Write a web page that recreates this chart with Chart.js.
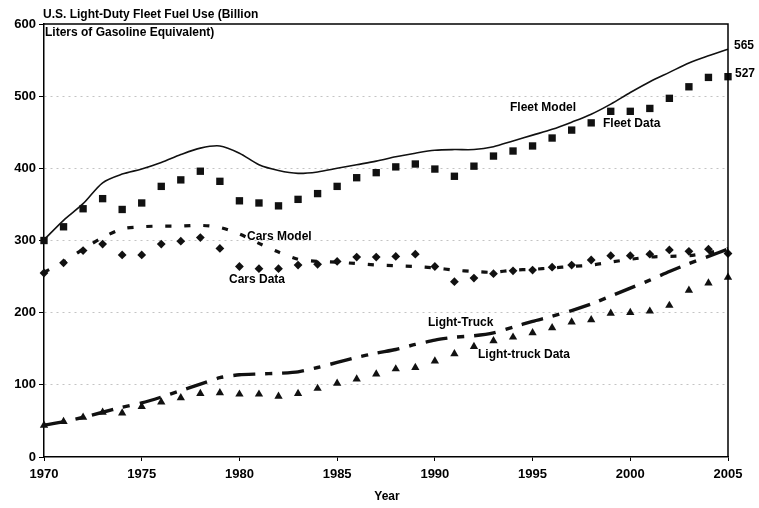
<!DOCTYPE html>
<html>
<head>
<meta charset="utf-8">
<script src="https://cdn.jsdelivr.net/npm/chart.js@4"></script>
<style>
  html, body { margin: 0; padding: 0; background: #fff; }
  #wrap { width: 759px; height: 508px; position: relative; }
</style>
</head>
<body>
<div id="wrap"><canvas id="chart"></canvas></div>
<script>
// Years 1970..2005
const years = [1970, 1971, 1972, 1973, 1974, 1975, 1976, 1977, 1978, 1979,
  1980, 1981, 1982, 1983, 1984, 1985, 1986, 1987, 1988, 1989,
  1990, 1991, 1992, 1993, 1994, 1995, 1996, 1997, 1998, 1999,
  2000, 2001, 2002, 2003, 2004, 2005];

// Billion liters of gasoline equivalent
const fleetModel = [301, 328, 351, 380, 392, 399, 408, 419, 428, 431,
  421, 405, 397, 393, 395, 400, 405, 410, 416, 421,
  425, 426, 426, 430, 438, 446, 454, 464, 475, 489,
  505, 520, 533, 546, 556, 565];
const fleetData = [300, 319, 344, 358, 343, 352, 375, 384, 396, 382,
  355, 352, 348, 357, 365, 375, 387, 394, 402, 406,
  399, 389, 403, 417, 424, 431, 442, 453, 463, 479,
  479, 483, 497, 513, 526, 527];
const carsModel = [256, 270, 288, 304, 316, 319, 320, 320, 321, 318,
  309, 296, 284, 274, 271, 270, 268, 266, 265, 264,
  262, 259, 257, 256, 259, 260, 262, 264, 266, 270,
  274, 277, 278, 279, 283, 289];
const carsData = [255, 269, 286, 295, 280, 280, 295, 299, 304, 289,
  264, 261, 261, 266, 267, 271, 277, 277, 278, 281,
  264, 243, 248, 254, 258, 259, 263, 266, 273, 279,
  279, 281, 287, 285, 288, 282];
const truckModel = [44, 49, 55, 62, 69, 75, 83, 92, 101, 110,
  114, 115, 116, 118, 124, 131, 138, 144, 149, 156,
  162, 166, 168, 172, 180, 188, 195, 203, 212, 223,
  234, 245, 257, 268, 278, 288];
const truckData = [44, 49, 55, 62, 61, 70, 76, 82, 88, 89,
  87, 87, 84, 88, 95, 102, 108, 115, 122, 124,
  133, 143, 153, 161, 166, 172, 179, 187, 190, 199,
  200, 202, 210, 231, 241, 249];

const yTicks = [0, 100, 200, 300, 400, 500, 600];
const xTicks = [1970, 1975, 1980, 1985, 1990, 1995, 2000, 2005];

const titleLines = ['U.S. Light-Duty Fleet Fuel Use (Billion', 'Liters of Gasoline Equivalent)'];
const notes = [
  { text: 'Fleet Model', x: 510, y: 108 },
  { text: 'Fleet Data', x: 603, y: 124 },
  { text: 'Cars Model', x: 247, y: 237 },
  { text: 'Cars Data', x: 229, y: 280 },
  { text: 'Light-Truck', x: 428, y: 323 },
  { text: 'Light-truck Data', x: 478, y: 355 },
  { text: '565', x: 734, y: 46 },
  { text: '527', x: 735, y: 74 }
];

const pts = arr => years.map((yr, i) => ({ x: yr, y: arr[i] }));
const FONT = '"Liberation Sans", Arial, sans-serif';

// Draws the frame, title lines and in-plot labels
const textPlugin = {
  id: 'texts',
  afterDraw(chart) {
    const { ctx, chartArea: a } = chart;
    ctx.save();
    ctx.strokeStyle = '#000';
    ctx.lineWidth = 1.5;
    ctx.beginPath();
    ctx.moveTo(a.left, a.top);
    ctx.lineTo(a.right, a.top);
    ctx.lineTo(a.right, a.bottom);
    ctx.stroke();

    ctx.fillStyle = '#000';
    ctx.font = 'bold 12px ' + FONT;
    ctx.textBaseline = 'middle';
    ctx.textAlign = 'left';
    ctx.fillText(titleLines[0], 43, 15);
    ctx.fillText(titleLines[1], 45, 33);
    notes.forEach(n => ctx.fillText(n.text, n.x, n.y));

    ctx.textAlign = 'center';
    ctx.fillText('Year', (a.left + a.right) / 2 + 1, 497);
    ctx.restore();
  }
};

new Chart(document.getElementById('chart'), {
  type: 'line',
  data: {
    datasets: [
      {
        label: 'Fleet Model',
        data: pts(fleetModel),
        borderColor: '#111',
        borderWidth: 1.6,
        pointRadius: 0,
        tension: 0.3
      },
      {
        label: 'Fleet Data',
        data: pts(fleetData),
        showLine: false,
        pointStyle: 'rect',
        pointRadius: 5.2,
        backgroundColor: '#111',
        borderColor: '#111',
        borderWidth: 0
      },
      {
        label: 'Cars Model',
        data: pts(carsModel),
        borderColor: '#111',
        borderWidth: 3.2,
        borderDash: [6, 13],
        pointRadius: 0,
        tension: 0.3
      },
      {
        label: 'Cars Data',
        data: pts(carsData),
        showLine: false,
        pointStyle: 'rectRot',
        pointRadius: 4.4,
        backgroundColor: '#111',
        borderColor: '#111',
        borderWidth: 0
      },
      {
        label: 'Light-Truck',
        data: pts(truckModel),
        borderColor: '#111',
        borderWidth: 3.4,
        borderDash: [22, 10, 7, 10],
        pointRadius: 0,
        tension: 0.2
      },
      {
        label: 'Light-truck Data',
        data: pts(truckData),
        showLine: false,
        pointStyle: 'triangle',
        pointRadius: 4.8,
        backgroundColor: '#111',
        borderColor: '#111',
        borderWidth: 0
      }
    ]
  },
  options: {
    responsive: true,
    maintainAspectRatio: false,
    animation: false,
    clip: false,
    layout: { padding: { left: 0, right: 31, top: 24, bottom: 0 } },
    plugins: {
      legend: { display: false },
      tooltip: { enabled: false }
    },
    scales: {
      x: {
        type: 'linear',
        min: 1970,
        max: 2005,
        afterBuildTicks: s => { s.ticks = xTicks.map(v => ({ value: v })); },
        afterFit: s => { s.height = 51; },
        ticks: {
          color: '#000',
          font: { family: FONT, size: 13, weight: 'bold' },
          padding: 6,
          maxRotation: 0,
          callback: v => String(v)
        },
        grid: { drawOnChartArea: false, tickColor: '#000', tickLength: 4 },
        border: { color: '#000', width: 1.5 }
      },
      y: {
        min: 0,
        max: 600,
        afterBuildTicks: s => { s.ticks = yTicks.map(v => ({ value: v })); },
        afterFit: s => { s.width = 44; },
        ticks: {
          color: '#000',
          font: { family: FONT, size: 13, weight: 'bold' },
          padding: 3
        },
        grid: {
          color: c => (c.tick && (c.tick.value === 0 || c.tick.value === 600)) ? 'rgba(0,0,0,0)' : '#c4c4c4',
          lineWidth: 1,
          tickColor: '#000',
          tickLength: 5
        },
        border: { color: '#000', width: 1.5, dash: [2, 4] }
      }
    }
  },
  plugins: [textPlugin]
});
</script>
</body>
</html>
